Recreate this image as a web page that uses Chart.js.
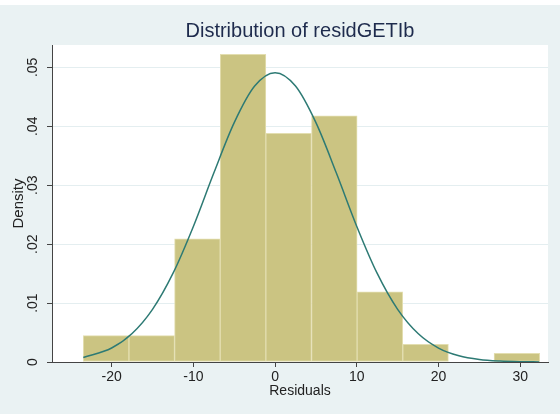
<!DOCTYPE html>
<html>
<head>
<meta charset="utf-8">
<script src="https://cdn.jsdelivr.net/npm/chart.js@4.4.1/dist/chart.umd.min.js"></script>
<style>
  html, body { margin: 0; padding: 0; background: #ffffff; }
  canvas { display: block; }
</style>
</head>
<body>
<canvas id="histChart" width="560" height="414"></canvas>
<script>
// histogram bins (centers) and densities
const binCenters = [-20.68, -15.09, -9.51, -3.92, 1.66, 7.25, 12.83, 18.42, 24.0, 29.59];
const binDensity = [0.00448, 0.00448, 0.0209, 0.0522, 0.0388, 0.0418, 0.0119, 0.0030, 0, 0.00149];

// normal density overlay
const curveX = [-23.47, -20, -17.5, -15, -12.5, -10, -7.5, -5, -2.5, 0, 2.5, 5, 7.5, 10, 12.5, 15, 17.5, 20, 22.5, 25, 27.5, 30, 32.33];
const curveY = [0.00075, 0.00237, 0.00483, 0.00893, 0.01503, 0.02301, 0.03207, 0.04062, 0.04683, 0.0491, 0.04683, 0.04062, 0.03207, 0.02301, 0.01503, 0.00893, 0.00483, 0.00237, 0.00106, 0.00043, 0.00016, 0.00005, 0.00002];

const xTicks = [-20, -10, 0, 10, 20, 30];
const yTicks = [0, 0.01, 0.02, 0.03, 0.04, 0.05];
const yTickLabels = ["0", ".01", ".02", ".03", ".04", ".05"];

const bgPlugin = {
    id: "stataBg",
    afterLayout(chart) {
        // centre the title over the plot region, like Stata does
        if (chart.titleBlock) {
            chart.titleBlock.left = chart.chartArea.left;
            chart.titleBlock.right = chart.chartArea.right;
        }
    },
    beforeDraw(chart) {
        const ctx = chart.ctx;
        const a = chart.chartArea;
        ctx.save();
        ctx.fillStyle = "#ffffff";
        ctx.fillRect(0, 0, chart.width, chart.height);
        ctx.fillStyle = "#eaf2f3";
        ctx.fillRect(0, 5, chart.width, chart.height - 5);
        ctx.fillStyle = "#ffffff";
        ctx.fillRect(a.left, a.top, a.right - a.left, a.bottom - a.top);
        ctx.restore();
    }
};

const fontFam = "'Liberation Sans', Arial, Helvetica, sans-serif";
const axisColor = "#444444";

document.addEventListener("DOMContentLoaded", function () {
    const ctx = document.getElementById("histChart").getContext("2d");

    new Chart(ctx, {
        type: "bar",
        data: {
            datasets: [
                {
                    type: "line",
                    data: curveX.map((x, i) => ({ x: x, y: curveY[i] })),
                    borderColor: "#2d7a74",
                    borderWidth: 1.5,
                    pointRadius: 0,
                    fill: false,
                    cubicInterpolationMode: "monotone",
                    order: 0,
                },
                {
                    type: "bar",
                    data: binCenters.map((x, i) => ({ x: x, y: binDensity[i] })),
                    backgroundColor: "#cbc482",
                    borderColor: "#e3deb0",
                    borderWidth: 1,
                    borderSkipped: false,
                    barPercentage: 1,
                    categoryPercentage: 1,
                    order: 1,
                },
            ],
        },
        options: {
            responsive: false,
            animation: false,
            layout: { padding: { left: 0, right: 12, top: 0, bottom: 0 } },
            plugins: {
                legend: { display: false },
                tooltip: { enabled: false },
                title: {
                    display: true,
                    text: "Distribution of residGETIb",
                    color: "#1e2b4d",
                    font: { family: fontFam, size: 20, weight: "normal" },
                    padding: { top: 19.5, bottom: 1.5 },
                },
            },
            scales: {
                x: {
                    type: "linear",
                    min: -27.3,
                    max: 33.4,
                    offset: false,
                    afterBuildTicks: (s) => { s.ticks = xTicks.map((v) => ({ value: v })); },
                    afterFit: (s) => { s.height = 52; },
                    ticks: {
                        color: "#222222",
                        font: { family: fontFam, size: 14 },
                        padding: 2,
                        maxRotation: 0,
                        callback: (v) => String(v),
                    },
                    grid: {
                        offset: false,
                        drawOnChartArea: false,
                        tickLength: 5,
                        tickColor: axisColor,
                    },
                    border: { color: axisColor, width: 1 },
                    title: {
                        display: true,
                        text: "Residuals",
                        color: "#222222",
                        font: { family: fontFam, size: 14 },
                        padding: { top: 0, bottom: 14 },
                    },
                },
                y: {
                    min: 0,
                    max: 0.0538,
                    afterBuildTicks: (s) => { s.ticks = yTicks.map((v) => ({ value: v })); },
                    afterFit: (s) => { s.width = 52; },
                    ticks: {
                        color: "#222222",
                        font: { family: fontFam, size: 14 },
                        minRotation: 90,
                        maxRotation: 90,
                        crossAlign: "center",
                        padding: 4,
                        callback: (v, i) => yTickLabels[i],
                    },
                    grid: {
                        color: "#e4eef0",
                        tickColor: axisColor,
                        tickLength: 5,
                    },
                    border: { color: axisColor, width: 1 },
                    title: {
                        display: true,
                        text: "Density",
                        color: "#222222",
                        font: { family: fontFam, size: 15 },
                        padding: { top: 10, bottom: 0 },
                    },
                },
            },
        },
        plugins: [bgPlugin],
    });
});
</script>
</body>
</html>
